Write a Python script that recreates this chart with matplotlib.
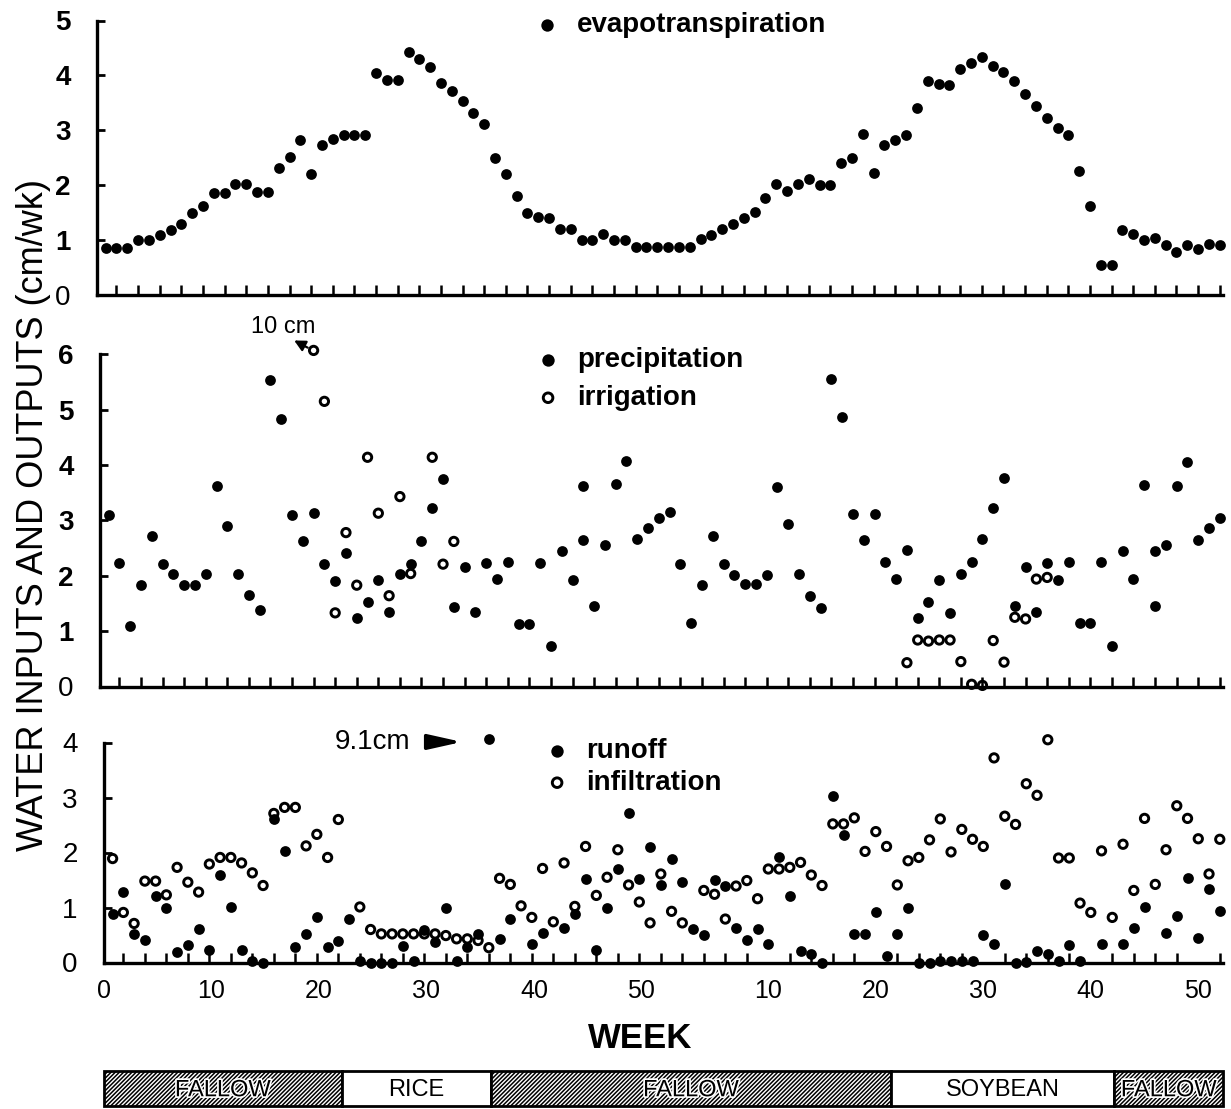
import numpy as np
import matplotlib
matplotlib.use("Agg")
import matplotlib.pyplot as plt
from matplotlib.patches import Rectangle
import matplotlib.patheffects as pe

plt.rcParams['font.family'] = ['Liberation Sans', 'DejaVu Sans']
plt.rcParams['hatch.linewidth'] = 1.1

# ---------------- data (x = week index, 0 = first week of year 1, year 2 starts at 52) -------------
et_cm = [0.85, 0.85, 0.86, 1.00, 1.00, 1.09, 1.18, 1.29, 1.49, 1.63,
         1.85, 1.85, 2.02, 2.02, 1.87, 1.87, 2.31, 2.51, 2.83, 2.21,
         2.73, 2.85, 2.91, 2.91, 2.91, 4.05, 3.92, 3.92, 4.42, 4.30,
         4.15, 3.86, 3.71, 3.53, 3.32, 3.12, 2.50, 2.21, 1.80, 1.50,
         1.42, 1.41, 1.21, 1.21, 1.00, 1.00, 1.11, 1.01, 1.01, 0.87,
         0.87, 0.87, 0.88, 0.88, 0.88, 1.02, 1.10, 1.21, 1.30, 1.40,
         1.51, 1.77, 2.03, 1.90, 2.02, 2.12, 2.01, 2.01, 2.41, 2.50,
         2.93, 2.22, 2.73, 2.83, 2.92, 3.40, 3.89, 3.84, 3.83, 4.12,
         4.23, 4.34, 4.17, 4.07, 3.89, 3.67, 3.45, 3.22, 3.05, 2.92,
         2.25, 1.62, 0.54, 0.54, 1.19, 1.11, 1.01, 1.03, 0.91, 0.79,
         0.91, 0.83, 0.92, 0.91]

precip_week = (list(range(0, 45)) + [44] + list(range(45, 98)) + [97] + list(range(98, 104)))
precip_cm = [3.09, 2.23, 1.10, 1.84, 2.71, 2.21, 2.04, 1.84, 1.84, 2.04,
             3.62, 2.90, 2.04, 1.65, 1.39, 5.54, 4.84, 3.10, 2.63, 3.13,
             2.22, 1.90, 2.41, 1.23, 1.52, 1.93, 1.34, 2.03, 2.21, 2.63,
             3.22, 3.75, 1.43, 2.15, 1.34, 2.23, 1.94, 2.24, 1.13, 1.13,
             2.23, 0.73, 2.44, 1.93, 3.62, 2.65, 1.45, 2.55, 3.66, 4.07,
             2.67, 2.87, 3.04,
             3.15, 2.21, 1.14, 1.83, 2.71, 2.21, 2.02, 1.85, 1.85, 2.02,
             3.61, 2.93, 2.04, 1.64, 1.42, 5.55, 4.86, 3.11, 2.65, 3.11,
             2.25, 1.94, 2.47, 1.23, 1.53, 1.93, 1.33, 2.04, 2.25, 2.66,
             3.23, 3.76, 1.45, 2.15, 1.34, 2.23, 1.92, 2.24, 1.14, 1.15,
             2.24, 0.73, 2.45, 1.95, 3.64, 2.44, 1.46, 2.56, 3.63, 4.05,
             2.64, 2.86, 3.04]

irrig_week = [19, 20, 21, 22, 23, 24, 25, 26, 27, 28, 30, 31, 32,
              74, 75, 76, 77, 78, 79, 80, 81, 82, 83, 84, 85, 86, 87]
irrig_cm = [10.0, 5.15, 1.33, 2.78, 1.83, 4.14, 3.13, 1.64, 3.43, 2.04, 4.14, 2.21, 2.62,
            0.43, 0.84, 0.82, 0.84, 0.84, 0.45, 0.04, 0.02, 0.83, 0.44, 1.25, 1.22, 1.94, 1.97]

runoff_week = (list(range(0, 38)) + [39, 40, 42, 43, 44, 45, 46, 47]
               + list(range(48, 91)) + [92, 94, 95, 96, 98, 99, 100, 101, 102, 103])
runoff_cm = [0.88, 1.29, 0.52, 0.41, 1.21, 1.00, 0.20, 0.31, 0.61, 0.22,
             1.60, 1.01, 0.22, 0.02, 0.00, 2.61, 2.02, 0.29, 0.51, 0.82,
             0.29, 0.39, 0.79, 0.02, 0.00, 0.00, 0.00, 0.30, 0.03, 0.60,
             0.38, 1.00, 0.02, 0.29, 0.51, 9.10, 0.42, 0.80,
             0.33, 0.53, 0.62, 0.89, 1.51, 0.23, 1.00, 1.70,
             2.71, 1.51, 2.10, 1.41, 1.88, 1.47, 0.61, 0.50, 1.50, 1.39,
             0.62, 0.41, 0.61, 0.33, 1.92, 1.21, 0.21, 0.15, 0.00, 3.03,
             2.32, 0.51, 0.51, 0.91, 0.12, 0.51, 0.99, 0.00, 0.00, 0.02,
             0.02, 0.02, 0.02, 0.50, 0.33, 1.42, 0.00, 0.01, 0.21, 0.15,
             0.03, 0.32, 0.03,
             0.34, 0.34, 0.63, 1.01, 0.54, 0.84, 1.53, 0.45, 1.33, 0.94]

infil_week = (list(range(0, 22)) + list(range(23, 54)) + list(range(55, 104)))
infil_cm = [1.89, 0.91, 0.71, 1.48, 1.48, 1.23, 1.73, 1.46, 1.28, 1.79,
            1.91, 1.91, 1.81, 1.63, 1.40, 2.71, 2.82, 2.82, 2.12, 2.33,
            1.91, 2.60,
            1.01, 0.60, 0.52, 0.52, 0.52, 0.52, 0.52, 0.52, 0.49, 0.43,
            0.43, 0.40, 0.27, 1.53, 1.42, 1.03, 0.82, 1.71, 0.74, 1.81,
            1.02, 2.11, 1.22, 1.55, 2.05, 1.41, 1.10, 0.72, 1.61, 0.93,
            0.72,
            1.31, 1.24, 0.79, 1.39, 1.49, 1.16, 1.70, 1.70, 1.73, 1.82,
            1.59, 1.40, 2.52, 2.52, 2.63, 2.02, 2.38, 2.11, 1.41, 1.85,
            1.91, 2.23, 2.61, 2.01, 2.42, 2.24, 2.11, 3.72, 2.66, 2.51,
            3.25, 3.04, 4.05, 1.90, 1.90, 1.08, 0.91, 2.03, 0.82, 2.15,
            1.31, 2.62, 1.42, 2.05, 2.85, 2.62, 2.25, 1.61, 2.24]

year1_labels = ['0', '10', '20', '30', '40', '50']
year2_labels = ['10', '20', '30', '40', '50']
year1_label_pos = [-0.8, 9.2, 19.2, 29.2, 39.2, 49.2]
year2_label_pos = [61, 71, 81, 91, 101]

crop_names = ['FALLOW', 'RICE', 'FALLOW', 'SOYBEAN', 'FALLOW']
crop_bounds = [-0.8, 21.3, 35.2, 72.4, 93.2, 103.3]
crop_hatched = [True, False, True, False, True]

# ---------------- figure ----------------
W, H = 1231, 1109
fig = plt.figure(figsize=(W / 100, H / 100), dpi=100)
ax_et = fig.add_axes([97 / W, 1 - 295 / H, 1126 / W, 274.5 / H])
ax_in = fig.add_axes([100 / W, 1 - 686.5 / H, 1123 / W, 332.2 / H])
ax_out = fig.add_axes([104 / W, 1 - 962.5 / H, 1119 / W, 220 / H])
ax_band = fig.add_axes([104 / W, 1 - 1106 / H, 1119 / W, 35 / H])

XL = (-0.8, 103.3)


def style(ax, ymax, bold):
    ax.set_xlim(*XL)
    ax.set_ylim(0, ymax)
    for s in ('top', 'right'):
        ax.spines[s].set_visible(False)
    for s in ('left', 'bottom'):
        ax.spines[s].set_linewidth(2.4)
    ax.set_yticks(range(ymax + 1))
    ax.tick_params(axis='y', direction='in', length=6, width=2.0, pad=19, labelsize=20)
    for lab in ax.get_yticklabels():
        lab.set_fontweight('bold' if (bold and lab.get_text() != '0') else 'normal')
    ax.set_xticks(np.arange(1, 104, 2), minor=True)
    ax.tick_params(axis='x', which='minor', direction='in', length=7, width=1.8)
    ax.tick_params(axis='x', which='major', length=0)


FILLED = dict(s=60, c='black', linewidths=0, clip_on=False, zorder=3)
OPEN = dict(s=36, facecolors='none', edgecolors='black', linewidths=2.1, clip_on=False, zorder=4)
LEG = dict(loc='center left', frameon=False, handlelength=0.8, handletextpad=0.65,
           borderpad=0, borderaxespad=0, scatterpoints=1, markerscale=1.15,
           prop={'weight': 'bold', 'size': 20})

# top: evapotranspiration
style(ax_et, 5, True)
ax_et.set_xticks([])
ax_et.scatter(np.arange(len(et_cm)), et_cm, label='evapotranspiration', **FILLED)
ax_et.legend(bbox_to_anchor=(0.3902, 0.9836), **LEG)

# middle: precipitation / irrigation
style(ax_in, 6, True)
ax_in.set_xticks([])
ax_in.scatter(precip_week, precip_cm, label='precipitation', **FILLED)
ax_in.scatter(irrig_week, np.minimum(irrig_cm, 6.07), label='irrigation', **OPEN)
ax_in.legend(bbox_to_anchor=(0.3891, 0.925), labelspacing=0.42, **LEG)
ax_in.text(16.2, 6.49, '10 cm', ha='center', va='center', fontsize=17)
ax_in.annotate('', xy=(17.2, 6.25), xytext=(18.45, 6.12), annotation_clip=False,
               arrowprops=dict(arrowstyle='-|>,head_length=0.55,head_width=0.28',
                               color='black', lw=1.6, mutation_scale=12,
                               shrinkA=0, shrinkB=0))

# bottom: runoff / infiltration
style(ax_out, 4, False)
ax_out.scatter(runoff_week, np.minimum(runoff_cm, 4.07), label='runoff', **FILLED)
ax_out.scatter(infil_week, infil_cm, label='infiltration', **OPEN)
ax_out.legend(bbox_to_anchor=(0.395, 0.889), labelspacing=0.22, **LEG)
ax_out.text(24.2, 4.01, '9.1cm', ha='center', va='center', fontsize=20)
ax_out.annotate('', xy=(32.5, 4.01), xytext=(29.6, 4.01), annotation_clip=False,
                arrowprops=dict(arrowstyle='-|>,head_length=1.7,head_width=0.38',
                                color='black', lw=2.5, mutation_scale=12,
                                shrinkA=0, shrinkB=0))
ax_out.set_xticks(year1_label_pos + year2_label_pos)
ax_out.set_xticklabels(year1_labels + year2_labels, fontsize=18)
ax_out.tick_params(axis='x', which='major', pad=12)

# labels
fig.text(33.5 / W, 1 - 515 / H, 'WATER INPUTS AND OUTPUTS (cm/wk)', rotation=90,
         ha='center', va='center', fontsize=26)
fig.text(640 / W, 1 - 1038 / H, 'WEEK', ha='center', va='center', fontsize=25,
         fontweight='bold')

# crop band
ax_band.set_xlim(*XL)
ax_band.set_ylim(0, 1)
ax_band.axis('off')
for i, name in enumerate(crop_names):
    x0, x1 = crop_bounds[i], crop_bounds[i + 1]
    ax_band.add_patch(Rectangle((x0, 0), x1 - x0, 1, facecolor='white', edgecolor='black',
                                lw=2, hatch='////////' if crop_hatched[i] else None,
                                clip_on=False))
    t = ax_band.text((x0 + x1) / 2, 0.45, name, ha='center', va='center', fontsize=17)
    if crop_hatched[i]:
        t.set_path_effects([pe.withStroke(linewidth=2.5, foreground='white')])

fig.savefig('out.png', dpi=100)
